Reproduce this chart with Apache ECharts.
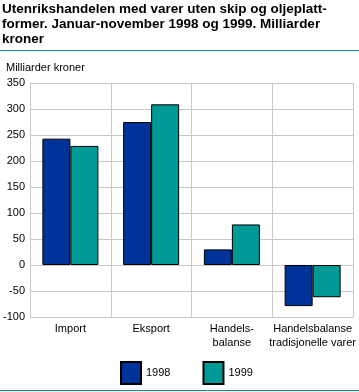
<!DOCTYPE html>
<html><head><meta charset="utf-8">
<script src="https://cdn.jsdelivr.net/npm/echarts@6/dist/echarts.min.js"></script>
<style>html,body{margin:0;padding:0;background:#fff}#c{width:359px;height:392px}</style>
</head><body><div id="c"></div>
<script>
const categories = ['Import', 'Eksport', 'Handels-\nbalanse', 'Handelsbalanse\ntradisjonelle varer'];
const values1998 = [243, 275, 30, -79];
const values1999 = [229, 309, 78, -62];
const seriesNames = ['1998', '1999'];
const yTicks = {min: -100, max: 350, interval: 50};
const titleText = 'Utenrikshandelen med varer uten skip og oljeplatt-\nformer. Januar-november 1998 og 1999. Milliarder\nkroner';
const unitText = 'Milliarder kroner';

const font = 'Liberation Sans, Arial, sans-serif';
const chart = echarts.init(document.getElementById('c'), null, {renderer: 'canvas'});
chart.setOption({
  animation: false,
  textStyle: {fontFamily: font},
  title: [
    {text: titleText, left: 2, top: 2, padding: 0, textStyle: {fontFamily: font, fontSize: 13.5, fontWeight: 'bold', color: '#000', lineHeight: 15}},
    {text: unitText, left: 6, top: 62, padding: 0, textStyle: {fontFamily: font, fontSize: 11, fontWeight: 'normal', color: '#000'}}
  ],
  graphic: [
    {type: 'rect', shape: {x: 0, y: 50, width: 359, height: 1}, style: {fill: '#1a8c8c'}},
    {type: 'rect', shape: {x: 0, y: 390, width: 359, height: 1}, style: {fill: '#1a8c8c'}}
  ],
  legend: {
    left: 120, top: 361, padding: 0, itemWidth: 20, itemHeight: 22, itemGap: 32,
    icon: 'rect',
    textStyle: {fontFamily: font, fontSize: 11, color: '#000'},
    data: seriesNames
  },
  grid: {left: 29, right: 6, top: 83, bottom: 75},
  xAxis: {
    type: 'category', data: categories,
    axisLine: {onZero: false, lineStyle: {color: '#c8c8c8'}},
    axisTick: {show: false},
    splitLine: {show: true, lineStyle: {color: '#c8c8c8'}},
    axisLabel: {color: '#000', fontSize: 11, fontFamily: font, lineHeight: 14, margin: 5, interval: 0}
  },
  yAxis: {
    type: 'value', min: yTicks.min, max: yTicks.max, interval: yTicks.interval,
    axisLine: {show: true, lineStyle: {color: '#c8c8c8'}},
    axisTick: {show: false},
    splitLine: {lineStyle: {color: '#c8c8c8'}},
    axisLabel: {color: '#000', fontSize: 11, fontFamily: font, margin: 5}
  },
  series: [
    {name: seriesNames[0], type: 'bar', data: values1998, barWidth: 28, barGap: '0%',
     itemStyle: {color: '#00339a', borderColor: '#000', borderWidth: 1}},
    {name: seriesNames[1], type: 'bar', data: values1999, barWidth: 28, barGap: '0%',
     itemStyle: {color: '#009a96', borderColor: '#000', borderWidth: 1}}
  ]
});
</script></body></html>
